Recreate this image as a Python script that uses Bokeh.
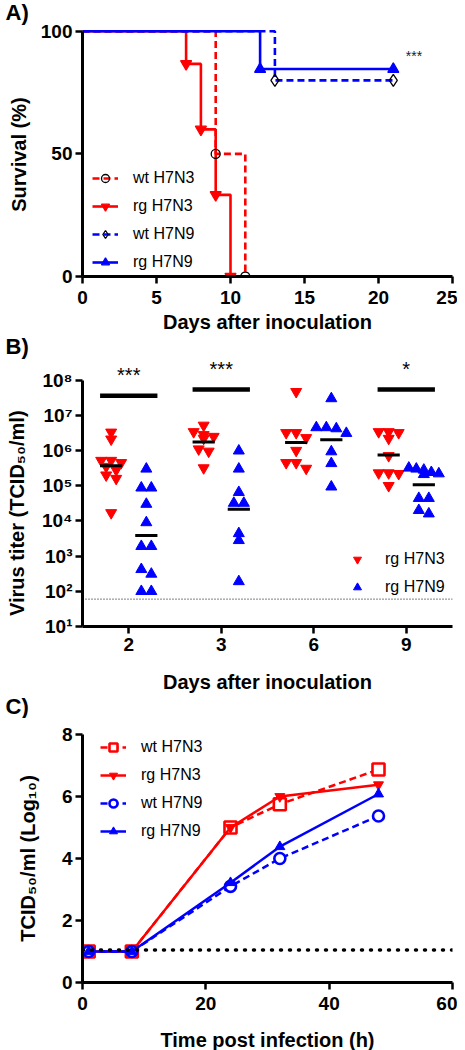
import math
from bokeh.plotting import figure
from bokeh.layouts import column
from bokeh.models import (Range1d, FactorRange, FixedTicker, CustomJSTickFormatter,
                          Label, Legend, LegendItem, Span, Title)
from bokeh.embed import file_html
from bokeh.resources import INLINE
from bokeh.core.properties import value

# ------------------------------------------------------------------ data
# Panel A: survival (%) after inoculation (days)
a_days_wt_h7n3 = [0, 9, 11]
a_surv_wt_h7n3 = [100, 50, 0]
a_days_rg_h7n3 = [0, 7, 8, 9, 10]
a_surv_rg_h7n3 = [100, 86.7, 60, 33.3, 0]
a_days_wt_h7n9 = [0, 13, 21]
a_surv_wt_h7n9 = [100, 80, 80]
a_days_rg_h7n9 = [0, 12, 21]
a_surv_rg_h7n9 = [100, 84.6, 84.6]
a_sig_text = "***"

# Panel B: virus titer (TCID50/ml) per day
b_days = ["2", "3", "6", "9"]
b_rg_h7n3 = [
    [3.3e6, 2.1e6, 5.2e5, 5.2e5, 4.5e5, 3.5e5, 2.8e5, 2.0e5, 1.6e5, 1.7e4],
    [5.2e6, 3.4e6, 2.8e6, 2.5e6, 2.2e6, 1.1e6, 9.5e5, 3.2e5],
    [4.7e7, 3.2e6, 3.2e6, 2.3e6, 1.0e6, 4.5e5, 4.5e5, 3.1e5],
    [3.4e6, 3.4e6, 3.2e6, 2.2e6, 7.1e5, 2.3e5, 2.3e5, 2.2e5, 1.0e5],
]
b_rg_h7n9 = [
    [3.0e5, 8.7e4, 8.7e4, 3.0e4, 9.0e3, 1.9e3, 1.9e3, 4.2e2, 3.1e2, 1.0e2, 1.0e2],
    [9.8e5, 3.0e5, 6.5e4, 3.2e4, 3.2e4, 4.4e3, 2.8e3, 1.9e2],
    [3.0e7, 4.5e6, 4.5e6, 4.2e6, 3.1e6, 9.3e5, 4.3e5, 9.3e4],
    [3.2e5, 3.0e5, 2.8e5, 2.4e5, 2.2e5, 2.1e5, 4.4e4, 4.4e4, 2.0e4, 1.6e4],
]
b_sig_labels = ["***", "***", "", "*"]
b_sig_level = [3.6e7, 5.4e7, None, 5.4e7]
b_detection_limit = 60
b_tick_exponents = [1, 2, 3, 4, 5, 6, 7, 8]

# Panel C: growth kinetics, log10 TCID50/ml
c_hours = [1, 8, 24, 32, 48]
c_wt_h7n3 = [1.0, 1.0, 5.0, 5.75, 6.87]
c_rg_h7n3 = [1.0, 1.0, 5.0, 6.0, 6.38]
c_wt_h7n9 = [1.0, 1.0, 3.1, 4.0, 5.37]
c_rg_h7n9 = [1.0, 1.0, 3.22, 4.38, 6.08]
c_detection_limit = 1.05

# ------------------------------------------------------------------ style
FONT = "Liberation Sans"
RED = "#FF0000"
BLUE = "#0000FF"
FW = 370
NB = "\u00a0"


def style_axes(p):
    p.outline_line_color = None
    p.xgrid.grid_line_color = None
    p.ygrid.grid_line_color = None
    p.background_fill_color = "white"
    p.border_fill_color = "white"
    for ax in p.axis:
        ax.axis_line_width = 3
        ax.axis_line_color = "black"
        ax.major_tick_line_width = 2.5
        ax.major_tick_line_color = "black"
        ax.major_tick_out = 7
        ax.major_tick_in = 0
        ax.minor_tick_line_color = None
        ax.major_label_text_font = FONT
        ax.major_label_text_font_size = "19px"
        ax.major_label_text_font_style = "bold"
        ax.major_label_text_color = "black"
        ax.axis_label_text_font = FONT
        ax.axis_label_text_font_size = "20px"
        ax.axis_label_text_font_style = "bold"
        ax.axis_label_text_color = "black"


def style_legend(lg):
    lg.label_text_font = FONT
    lg.label_text_font_size = "16px"
    lg.label_text_color = "black"
    lg.glyph_width = 26
    lg.glyph_height = 20
    lg.label_height = 20
    lg.label_standoff = 15
    lg.spacing = 8
    lg.padding = 0
    lg.margin = 0
    lg.border_line_color = None
    lg.background_fill_alpha = 0


def letter_style(t, text, standoff, valign):
    t.text = text
    t.align = "left"
    t.offset = -77
    t.standoff = standoff
    t.vertical_align = valign
    t.text_font = FONT
    t.text_font_size = "22px"
    t.text_font_style = "bold"
    t.text_color = "black"


# ------------------------------------------------------------------ panel A
pA = figure(frame_width=FW, frame_height=255, x_range=Range1d(0, 25), y_range=Range1d(0, 104),
            output_backend="svg", toolbar_location=None,
            min_border_left=82, min_border_right=5, min_border_top=21, min_border_bottom=0)
style_axes(pA)
pA.xaxis.ticker = FixedTicker(ticks=[0, 5, 10, 15, 20, 25])
pA.yaxis.ticker = FixedTicker(ticks=[0, 50, 100])
pA.yaxis.bounds = (0, 100)
pA.xaxis.axis_label = "Days after inoculation"
pA.yaxis.axis_label = "Survival (%)" + NB * 2
pA.xaxis.major_label_standoff = 7
pA.xaxis.axis_label_standoff = 4
pA.yaxis.major_label_standoff = 3
pA.yaxis.axis_label_standoff = 8

a_series = [
    (a_days_wt_h7n3, a_surv_wt_h7n3, RED, "7 4", "circle", "black", "wt H7N3", 9),
    (a_days_rg_h7n3, a_surv_rg_h7n3, RED, "solid", "inverted_triangle", RED, "rg H7N3", 11),
    (a_days_wt_h7n9, a_surv_wt_h7n9, BLUE, "7 4", "diamond", "black", "wt H7N9", 12),
    (a_days_rg_h7n9, a_surv_rg_h7n9, BLUE, "solid", "triangle", BLUE, "rg H7N9", 11),
]
a_line_r = []
for xs, ys, col, dash, mk, mcol, lab, sz in a_series:
    lr = pA.step(xs, ys, mode="after", line_color=col, line_width=2.6, line_dash=dash)
    a_line_r.append(lr)
a_mark_r = []
for xs, ys, col, dash, mk, mcol, lab, sz in a_series:
    filled = mcol != "black"
    mr = pA.scatter(xs[1:], ys[1:], marker=mk, size=sz, line_color=mcol, line_width=1.3,
                    fill_color=mcol if filled else "white", fill_alpha=1.0 if filled else 0.0)
    a_mark_r.append(mr)
a_items = [LegendItem(label=s[6], renderers=[lr, mr])
           for s, lr, mr in zip(a_series, a_line_r, a_mark_r)]
legA = Legend(items=a_items, location=(10, 4))
style_legend(legA)
pA.add_layout(legA)
pA.add_layout(Label(x=22.4, y=90, text=a_sig_text, text_align="center", text_baseline="middle",
                    text_font=FONT, text_font_size="14px", text_color="#222222"))
letter_style(pA.title, "A)", -6, "bottom")

# ------------------------------------------------------------------ panel B
B_FH = 271
DEC_PX = B_FH / 7.7
CAT_PX = FW / len(b_days)
RED_OFF, BLUE_OFF = -0.19, 0.19


def swarm_offsets(vals, row_px=6.0):
    logs = [math.log10(v) for v in vals]
    order = sorted(range(len(vals)), key=lambda i: -logs[i])
    rows = []
    for i in order:
        if rows and (logs[rows[-1][0]] - logs[i]) * DEC_PX < row_px:
            rows[-1].append(i)
        else:
            rows.append([i])
    offs = [0.0] * len(vals)
    for row in rows:
        n = len(row)
        step = 10.0 if n <= 3 else 30.0 / (n - 1)
        for j, i in enumerate(row):
            offs[i] = (j - (n - 1) / 2) * step / CAT_PX
    return offs


pB = figure(frame_width=FW, frame_height=B_FH, x_range=FactorRange(factors=b_days, range_padding=0),
            y_range=Range1d(10, 10 ** 8.7), y_axis_type="log",
            output_backend="svg", toolbar_location=None,
            min_border_left=82, min_border_right=5, min_border_top=20, min_border_bottom=0)
style_axes(pB)
pB.yaxis.ticker = FixedTicker(ticks=[10 ** k for k in b_tick_exponents])
pB.yaxis.formatter = CustomJSTickFormatter(code="""
const sup = ["\u2070","\u00b9","\u00b2","\u00b3","\u2074","\u2075","\u2076","\u2077","\u2078","\u2079"];
const e = Math.round(Math.log10(tick));
return "10" + sup[e];
""")
pB.yaxis.bounds = (10, 1e8)
pB.xaxis.axis_label = "Days after inoculation"
pB.yaxis.axis_label = "Virus titer (TCID\u2085\u2080/ml)" + NB * 8
pB.xaxis.major_label_standoff = 4
pB.xaxis.axis_label_standoff = 17
pB.yaxis.major_label_standoff = 3
pB.yaxis.axis_label_standoff = 11

groups = [(b_rg_h7n3, RED_OFF, RED, "inverted_triangle", "rg H7N3"),
          (b_rg_h7n9, BLUE_OFF, BLUE, "triangle", "rg H7N9")]
b_items = []
mean_x0, mean_x1, mean_y = [], [], []
for data, goff, col, mk, lab in groups:
    xs, ys = [], []
    for i, vals in enumerate(data):
        c = i + 0.5 + goff
        offs = swarm_offsets(vals)
        xs += [c + o for o in offs]
        ys += vals
        gm = 10 ** (sum(math.log10(v) for v in vals) / len(vals))
        mean_x0.append(c - 0.12)
        mean_x1.append(c + 0.12)
        mean_y.append(gm)
    r = pB.scatter(xs, ys, marker=mk, size=11, fill_color=col, line_color=col)
    b_items.append(LegendItem(label=lab, renderers=[r]))
pB.segment(x0=mean_x0, y0=mean_y, x1=mean_x1, y1=mean_y, line_color="black", line_width=3)

sx0, sx1, sy, tx, tt = [], [], [], [], []
for i, (lab, lev) in enumerate(zip(b_sig_labels, b_sig_level)):
    if lev is None:
        continue
    sx0.append(i + 0.5 - 0.31)
    sx1.append(i + 0.5 + 0.31)
    sy.append(lev)
    tx.append(i + 0.5)
    tt.append(lab)
pB.segment(x0=sx0, y0=sy, x1=sx1, y1=sy, line_color="black", line_width=4.5)
pB.text(x=tx, y=sy, text=tt, y_offset=-21, text_align="center", text_baseline="alphabetic",
        text_font=value(FONT), text_font_size="20px", text_color="black")
pB.add_layout(Span(location=b_detection_limit, dimension="width", line_color="black",
                   line_width=1, line_dash="1 2"))
legB = Legend(items=b_items, location=(262, 29))
style_legend(legB)
pB.add_layout(legB)
letter_style(pB.title, "B)", -7, "bottom")
# letter of the next panel sits just under panel B's axis title
c_letter = Title()
letter_style(c_letter, "C)", -4, "top")
pB.add_layout(c_letter, "below")

# ------------------------------------------------------------------ panel C
pC = figure(frame_width=FW, frame_height=248, x_range=Range1d(0, 60), y_range=Range1d(0, 8),
            output_backend="svg", toolbar_location=None,
            min_border_left=82, min_border_right=5, min_border_top=16, min_border_bottom=0)
style_axes(pC)
pC.xaxis.ticker = FixedTicker(ticks=[0, 20, 40, 60])
pC.yaxis.ticker = FixedTicker(ticks=[0, 2, 4, 6, 8])
pC.xaxis.axis_label = "Time post infection (h)"
pC.yaxis.axis_label = "TCID\u2085\u2080/ml (Log\u2081\u2080)"
pC.xaxis.major_label_standoff = 7
pC.xaxis.axis_label_standoff = 16
pC.yaxis.major_label_standoff = 3
pC.yaxis.axis_label_standoff = 20
pC.add_layout(Span(location=c_detection_limit, dimension="width", line_color="black",
                   line_width=3.5, line_dash="1 8", line_cap="round"))

c_series = [
    (c_wt_h7n3, RED, "7 4", "square", False, 12, "wt H7N3"),
    (c_rg_h7n3, RED, "solid", "inverted_triangle", True, 10, "rg H7N3"),
    (c_wt_h7n9, BLUE, "7 4", "circle", False, 11, "wt H7N9"),
    (c_rg_h7n9, BLUE, "solid", "triangle", True, 10, "rg H7N9"),
]
c_items = []
for ys, col, dash, mk, filled, sz, lab in c_series:
    lr = pC.line(c_hours, ys, line_color=col, line_width=2.5, line_dash=dash)
    mr = pC.scatter(c_hours, ys, marker=mk, size=sz, line_color=col,
                    line_width=1 if filled else 2.6,
                    fill_color=col if filled else "white")
    c_items.append(LegendItem(label=lab, renderers=[lr, mr]))
legC = Legend(items=c_items, location=(18, 141))
style_legend(legC)
pC.add_layout(legC)

layout = column(pA, pB, pC, spacing=0)
with open("out.html", "w", encoding="utf-8") as f:
    f.write(file_html(layout, INLINE))
